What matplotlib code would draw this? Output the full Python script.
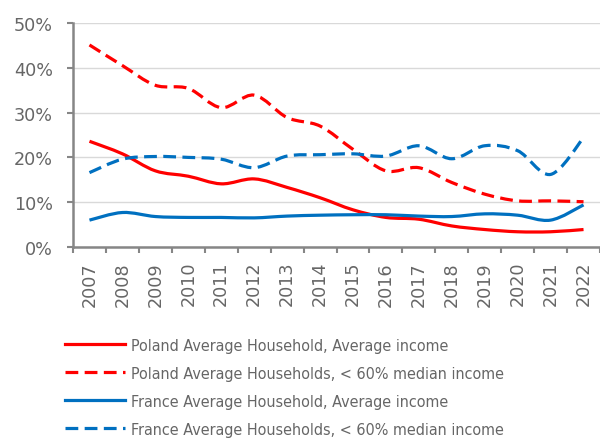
import matplotlib
matplotlib.use("Agg")
import matplotlib.pyplot as plt
from matplotlib.path import Path
from matplotlib.patches import PathPatch
from matplotlib.lines import Line2D
from matplotlib import font_manager as fm
import numpy as np

years = [str(y) for y in range(2007, 2023)]
poland_avg = [23.6, 20.8, 17.0, 15.8, 14.1, 15.2, 13.3, 11.0, 8.3, 6.6, 6.2, 4.7, 3.9, 3.4, 3.4, 3.9]
poland_low = [45.1, 40.5, 36.1, 35.4, 31.1, 33.9, 28.9, 27.0, 21.8, 17.0, 17.7, 14.4, 11.8, 10.3, 10.3, 10.1]
france_avg = [6.0, 7.7, 6.8, 6.6, 6.6, 6.5, 6.9, 7.1, 7.2, 7.2, 6.9, 6.8, 7.4, 7.1, 6.0, 9.4]
france_low = [16.6, 19.6, 20.2, 20.0, 19.6, 17.7, 20.3, 20.6, 20.8, 20.3, 22.6, 19.7, 22.6, 21.5, 16.2, 24.4]

labels = ["Poland Average Household, Average income",
          "Poland Average Households, < 60% median income",
          "France Average Household, Average income",
          "France Average Households, < 60% median income"]
RED = "#FF0000"
BLUE = "#0070C0"
GREY = "#666666"
AXC = "#868686"

# legend font: condensed DejaVu if available, else regular at smaller size
cond = None
for f in fm.fontManager.ttflist:
    if f.name == "DejaVu Sans" and "Condensed" in f.fname and "Bold" not in f.fname and "Oblique" not in f.fname:
        cond = f.fname
        break
if cond:
    leg_prop = fm.FontProperties(fname=cond, size=11.5)
else:
    leg_prop = fm.FontProperties(family="DejaVu Sans", size=10.4)

fig = plt.figure(figsize=(6.0, 4.39), dpi=100)
ax = fig.add_axes([73/600, 1-248/439, 1-73/600, (248-24)/439])

def smooth_path(xs, ys):
    pts = np.column_stack([xs, ys]).astype(float)
    n = len(pts)
    verts = [pts[0]]
    codes = [Path.MOVETO]
    for i in range(n - 1):
        p0 = pts[i - 1] if i > 0 else pts[i]
        p1 = pts[i]
        p2 = pts[i + 1]
        p3 = pts[i + 2] if i + 2 < n else pts[i + 1]
        c1 = p1 + (p2 - p0) / 6.0
        c2 = p2 - (p3 - p1) / 6.0
        verts += [c1, c2, p2]
        codes += [Path.CURVE4] * 3
    return Path(verts, codes)

x = np.arange(len(years))
series = [(poland_avg, RED, "-"), (poland_low, RED, (0, (4, 2))),
          (france_avg, BLUE, "-"), (france_low, BLUE, (0, (4, 2)))]
LW = 2.3
handles = []
for (vals, col, ls), lab in zip(series, labels):
    patch = PathPatch(smooth_path(x, vals), fill=False, edgecolor=col,
                      linewidth=LW, linestyle=ls, capstyle="butt", joinstyle="round")
    ax.add_patch(patch)
    handles.append(Line2D([], [], color=col, linewidth=LW, linestyle=ls,
                          dash_capstyle="butt", label=lab))

ax.set_xlim(-0.5, 15.36)
ax.set_ylim(0, 50)
ax.set_yticks(np.arange(0, 51, 10))
ax.set_yticklabels([f"{v}%" for v in range(0, 51, 10)])
ax.yaxis.grid(True, color="#D9D9D9", linewidth=1.0)
ax.set_axisbelow(True)
ax.set_xticks(x)
ax.set_xticklabels(years, rotation=90, ha="center", va="top")
ax.set_xticks(np.arange(-0.5, 15.6, 1.0), minor=True)
ax.tick_params(axis="x", which="major", length=0, pad=10, labelsize=12.7, labelcolor=GREY)
ax.tick_params(axis="x", which="minor", length=4, width=1.5, color=AXC, direction="out")
ax.tick_params(axis="y", length=4.5, width=1.5, color=AXC, pad=10, labelsize=12.7, labelcolor=GREY)
for s in ["top", "right"]:
    ax.spines[s].set_visible(False)
for s in ["left", "bottom"]:
    ax.spines[s].set_color(AXC)
    ax.spines[s].set_linewidth(1.8)

fs = leg_prop.get_size_in_points()
hl = 43.0 / fs
leg = fig.legend(handles=handles, loc="upper left", bbox_to_anchor=(65/600, 1-339/439),
                 frameon=False, prop=leg_prop,
                 handlelength=hl, handletextpad=0.4,
                 labelspacing=(28*0.72 - fs*1.0) / fs + 0.06,
                 borderpad=0, borderaxespad=0)
for t in leg.get_texts():
    t.set_color(GREY)

fig.savefig("out.png", dpi=100)
